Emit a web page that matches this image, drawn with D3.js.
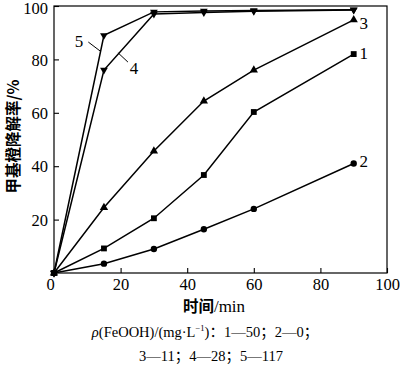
<!DOCTYPE html>
<html><head><meta charset="utf-8">
<script src="https://cdn.jsdelivr.net/npm/d3@7"></script>
<style>body{margin:0;background:#fff}</style>
</head><body>
<svg id="c" width="400" height="368"></svg>
<script>
const times = [0, 15, 30, 45, 60, 90];
const s1 = [0, 9.2, 20.5, 36.7, 60.3, 82];
const s2 = [0, 3.5, 9, 16.4, 24, 41];
const s3 = [0, 24.5, 45.7, 64.4, 76, 94.8];
const s4 = [0, 76, 97, 97.6, 98, 98.5];
const s5 = [0, 89, 97.8, 98.1, 98.3, 98.6];
const seriesNames = ["1", "2", "3", "4", "5"];
const xTicks = [0, 20, 40, 60, 80, 100];
const yTicks = [20, 40, 60, 80, 100];
const caption1 = "(FeOOH)/(mg·L";
const caption2 = ["3—11", "4—28", "5—117"];
const caption1b = ["1—50", "2—0"];

const svg = d3.select("#c");
const L = 54, R = 387, T = 6, B = 273;
const x = d3.scaleLinear().domain([0, 100]).range([L, R]);
const y = d3.scaleLinear().domain([0, 100]).range([B, T]);
const serif = "'Liberation Serif','Times New Roman',serif";
const cjk = "'Noto Sans CJK SC',sans-serif";

svg.append("rect").attr("x", L).attr("y", T).attr("width", R - L).attr("height", B - T)
  .attr("fill", "none").attr("stroke", "#000").attr("stroke-width", 1.2);

const gx = svg.append("g").attr("transform", `translate(0,${B})`)
  .call(d3.axisBottom(x).tickValues(xTicks).tickSizeInner(-5).tickSizeOuter(0).tickPadding(5));
const gy = svg.append("g").attr("transform", `translate(${L},0)`)
  .call(d3.axisLeft(y).tickValues(yTicks).tickSizeInner(-5).tickSizeOuter(0).tickPadding(6));
[gx, gy].forEach(g => {
  g.select(".domain").remove();
  g.selectAll("line").attr("stroke", "#000").attr("stroke-width", 1.1);
  g.selectAll("text").attr("font-family", serif).attr("font-size", 16.5).attr("fill", "#000");
});
gx.selectAll("text").filter(d => d === 0).attr("dx", -4);
gy.selectAll("text").attr("dy", "0.35em");
gy.selectAll("text").filter(d => d === 100).attr("dy", "0.45em");

const data = [s1, s2, s3, s4, s5];
const shapes = [d3.symbolSquare, d3.symbolCircle, d3.symbolTriangle, d3.symbolTriangle, d3.symbolTriangle];
const rot = [0, 0, 0, 180, 180];
const sizes = [34, 32, 30, 26, 26];
const line = d3.line().x((d, i) => x(times[i])).y(d => y(d));
data.forEach((s, k) => {
  svg.append("path").datum(s).attr("d", line).attr("fill", "none")
    .attr("stroke", "#000").attr("stroke-width", 1.5);
  svg.selectAll(null).data(s).enter().append("path")
    .attr("d", d3.symbol().type(shapes[k]).size(sizes[k]))
    .attr("transform", (d, i) => `translate(${x(times[i])},${y(d)}) rotate(${rot[k]})`)
    .attr("fill", "#000");
});

// series labels
const lab = (t, px, py) => svg.append("text").attr("x", px).attr("y", py).text(t)
  .attr("font-family", serif).attr("font-size", 17).attr("text-anchor", "middle").attr("dominant-baseline", "middle");
lab(seriesNames[2], x(93), y(93));
lab(seriesNames[0], x(93), y(81.5));
lab(seriesNames[1], x(93), y(41));
lab(seriesNames[4], x(7.5), y(86));
lab(seriesNames[3], x(24), y(76));
svg.append("line").attr("x1", x(10.3)).attr("y1", y(86.5)).attr("x2", x(14)).attr("y2", y(83))
  .attr("stroke", "#000").attr("stroke-width", 1);
svg.append("line").attr("x1", x(19.2)).attr("y1", y(82.5)).attr("x2", x(22.2)).attr("y2", y(79))
  .attr("stroke", "#000").attr("stroke-width", 1);

// axis titles
svg.append("text").attr("transform", `translate(19,${(T + B) / 2 - 3}) rotate(-90)`)
  .attr("text-anchor", "middle").attr("font-size", 15.5).attr("font-weight", "bold")
  .attr("font-family", cjk).text("甲基橙降解率/%");
const xt = svg.append("text").attr("x", 214).attr("y", 312).attr("text-anchor", "middle")
  .attr("font-size", 15.5);
xt.append("tspan").attr("font-family", cjk).attr("font-weight", "bold").text("时间");
xt.append("tspan").attr("font-family", serif).attr("font-size", 17).text("/min");

const c1 = svg.append("text").attr("x", 205).attr("y", 337).attr("text-anchor", "middle")
  .attr("font-family", serif).attr("font-size", 14.5);
c1.append("tspan").attr("font-style", "italic").text("ρ");
c1.append("tspan").text(caption1);
c1.append("tspan").attr("font-size", 8.5).attr("dy", -6).text("−1");
c1.append("tspan").attr("dy", 6).text(")");
c1.append("tspan").attr("font-family", cjk).text("：");
c1.append("tspan").text(caption1b[0]);
c1.append("tspan").attr("font-family", cjk).text("；");
c1.append("tspan").text(caption1b[1]);
c1.append("tspan").attr("font-family", cjk).text("；");
const c2 = svg.append("text").attr("x", 211).attr("y", 361).attr("text-anchor", "middle")
  .attr("font-family", serif).attr("font-size", 14.5);
caption2.forEach((t, i) => {
  c2.append("tspan").text(t);
  if (i < caption2.length - 1) c2.append("tspan").attr("font-family", cjk).text("；");
});
</script>
</body></html>
